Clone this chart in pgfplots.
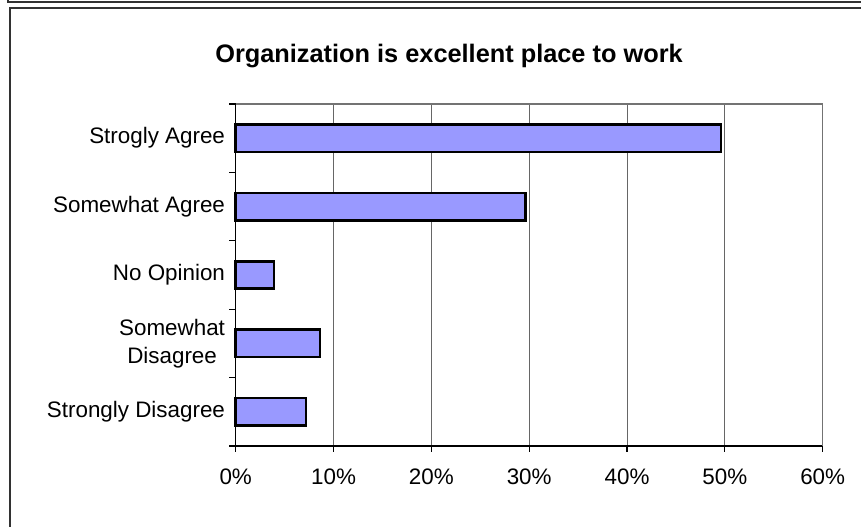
\documentclass[border=0pt]{standalone}
\usepackage{pgfplots}
\pgfplotsset{compat=1.18}
\usepackage{fontspec}
\setmainfont{Liberation Sans}
\definecolor{barfill}{RGB}{153,153,255}
\definecolor{framecol}{RGB}{50,50,50}
\begin{document}
\begin{tikzpicture}
\useasboundingbox (0,0) rectangle (645.75pt,395.25pt);
\begin{scope}[x=0.75pt,y=0.75pt]
\draw[framecol, line width=1.5pt] (7.5,527) -- (7.5,525.3) -- (861,525.3);
\draw[framecol, line width=1.5pt] (10,0) -- (10,519) -- (861,519);
\end{scope}
\begin{axis}[
  at={(176.775pt,60.75pt)}, anchor=south west,
  scale only axis, width=440.25pt, height=256.5pt,
  xmin=0, xmax=60, ymin=0.5, ymax=5.5,
  axis x line*=bottom, axis y line*=left,
  axis line style={black, line width=1.1pt},
  xtick={0,10,...,60},
  xticklabel={\pgfmathprintnumber{\tick}\%},
  xmajorgrids, grid style={black!60, line width=0.75pt},
  tick align=outside, major tick length=4.5pt, minor tick length=5pt,
  ytick={1,...,5},
  yticklabels={Strongly Disagree,{Somewhat\\Disagree},No Opinion,Somewhat Agree,Strogly Agree},
  major y tick style={draw=none},
  minor ytick={0.5,1.5,...,5.5},
  tick style={black, line width=0.85pt},
  ticklabel style={font=\fontsize{16.8}{20.8}\selectfont},
  yticklabel style={align=center},
  xticklabel style={yshift=-9pt},
  /pgf/number format/assume math mode=true,
  clip=false,
]
\addplot[xbar, bar width=0.4, fill=barfill, draw=black, line width=2pt]
  coordinates {(7.2,1) (8.6,2) (3.9,3) (29.6,4) (49.6,5)};
\draw[black!55, line width=1.1pt] (rel axis cs:0,1) -- (rel axis cs:1,1) -- (rel axis cs:1,0);
\end{axis}
\node[anchor=base, font=\bfseries\fontsize{19}{22}\selectfont] at (336.75pt,348pt) {Organization is excellent place to work};
\end{tikzpicture}
\end{document}
